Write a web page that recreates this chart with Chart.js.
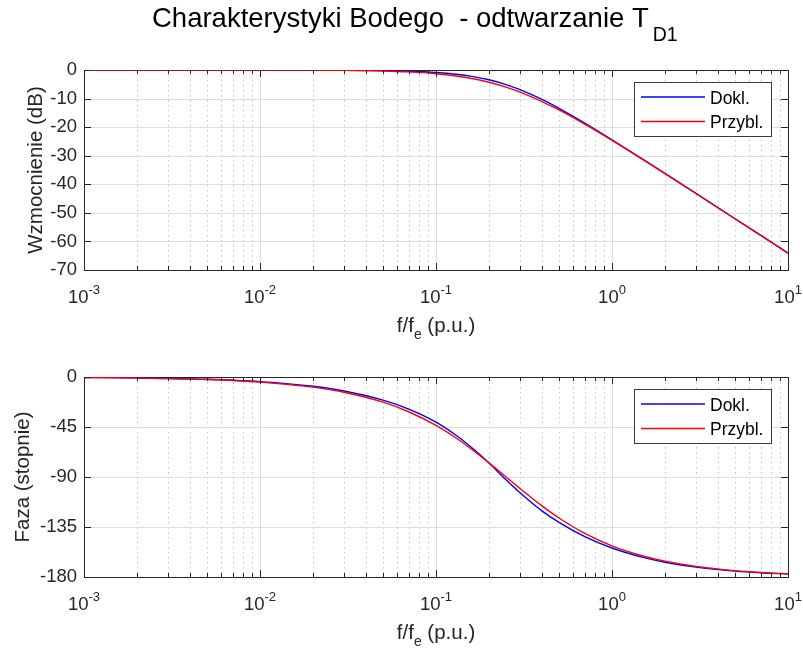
<!DOCTYPE html>
<html><head><meta charset="utf-8">
<script src="https://cdn.jsdelivr.net/npm/chart.js"></script>
<style>
html,body{margin:0;padding:0;background:#fff;}
#wrap{position:relative;width:803px;height:651px;overflow:hidden;background:#fff;}
canvas{position:absolute;left:0;}
</style></head><body>
<div id="wrap">
<canvas id="c1" width="803" height="345" style="top:0px"></canvas>
<canvas id="c2" width="803" height="306" style="top:345px"></canvas>
</div>
<script>
// frequency f/fe (p.u.)
const freq = [0.001, 0.002, 0.005, 0.01, 0.02, 0.03, 0.05, 0.07, 0.1, 0.13, 0.16, 0.2, 0.25, 0.3, 0.4, 0.5, 0.7, 1, 1.5, 2, 3, 5, 7, 10];
// gain (dB)
const magExact  = [0, 0, 0, -0.01, -0.03, -0.08, -0.22, -0.43, -0.88, -1.49, -2.24, -3.43, -5.10, -6.87, -10.30, -13.42, -18.59, -24.42, -31.28, -36.21, -43.20, -52.06, -57.89, -64.09];
const magApprox = [0, 0, 0, -0.01, -0.06, -0.12, -0.34, -0.66, -1.29, -2.08, -2.98, -4.30, -6.02, -7.75, -11.03, -13.98, -18.93, -24.61, -31.36, -36.26, -43.23, -52.06, -57.90, -64.09];
// phase (degrees)
const phaseExact  = [-0.41, -0.82, -2.09, -4.18, -8.35, -12.59, -20.82, -28.88, -40.60, -52.44, -63.74, -77.32, -92.50, -104.19, -120.48, -130.87, -143.70, -153.93, -162.38, -166.75, -171.16, -174.68, -176.21, -177.34];
const phaseApprox = [-0.46, -0.92, -2.29, -4.58, -9.15, -13.69, -22.62, -31.28, -43.60, -54.94, -65.24, -77.32, -90.00, -100.39, -115.98, -126.87, -140.70, -151.93, -161.08, -165.75, -170.46, -174.28, -175.91, -177.14];
const seriesNames = ['Dokl.', 'Przybl.'];
const xDecades = [-3, -2, -1, 0, 1];
const titleMain = 'Charakterystyki Bodego  - odtwarzanie T';
const titleSub = 'D1';
const yLabelTop = 'Wzmocnienie (dB)';
const yLabelBottom = 'Faza (stopnie)';

const FONT = '"Liberation Sans", Arial, Helvetica, sans-serif';
const AX = '#262626';
const BLUE = '#0000ff', RED = '#ff0000';

const decor = {
  id: 'decor',
  beforeDatasetsDraw(chart, args, o) {
    const ctx = chart.ctx; const {left, right, top, bottom} = chart.chartArea;
    const x = chart.scales.x, y = chart.scales.y;
    ctx.save();
    ctx.lineWidth = 1;
    ctx.strokeStyle = '#c2c2c2'; ctx.setLineDash([1.5, 3.5]);
    ctx.beginPath();
    for (const d of xDecades) for (let m = 2; m <= 9; m++) {
      const v = m * Math.pow(10, d); if (v > 10.0001) continue;
      const px = Math.round(x.getPixelForValue(v)) + 0.5;
      ctx.moveTo(px, top); ctx.lineTo(px, bottom);
    }
    ctx.stroke();
    ctx.setLineDash([]);
    ctx.strokeStyle = '#dedede';
    ctx.beginPath();
    for (const d of xDecades) {
      const px = Math.round(x.getPixelForValue(Math.pow(10, d))) + 0.5;
      ctx.moveTo(px, top); ctx.lineTo(px, bottom);
    }
    y.ticks.forEach(t => {
      const py = Math.round(y.getPixelForValue(t.value)) + 0.5;
      ctx.moveTo(left, py); ctx.lineTo(right, py);
    });
    ctx.stroke();
    ctx.strokeStyle = AX;
    ctx.strokeRect(Math.round(left) + 0.5, Math.round(top) + 0.5, Math.round(right - left), Math.round(bottom - top));
    ctx.restore();
  },
  afterDraw(chart, args, o) {
    const ctx = chart.ctx; const {left, right, top, bottom} = chart.chartArea;
    const x = chart.scales.x, y = chart.scales.y;
    ctx.save();
    ctx.strokeStyle = AX; ctx.lineWidth = 1;
    ctx.beginPath();
    for (const d of xDecades) for (let m = 1; m <= 9; m++) {
      const v = m * Math.pow(10, d); if (v > 10.0001) continue;
      const px = Math.round(x.getPixelForValue(v)) + 0.5;
      const L = m === 1 ? 7 : 4;
      ctx.moveTo(px, bottom); ctx.lineTo(px, bottom - L);
      ctx.moveTo(px, top); ctx.lineTo(px, top + L);
    }
    y.ticks.forEach(t => {
      const py = Math.round(y.getPixelForValue(t.value)) + 0.5;
      ctx.moveTo(left, py); ctx.lineTo(left + 7, py);
      ctx.moveTo(right, py); ctx.lineTo(right - 7, py);
    });
    ctx.stroke();
    ctx.fillStyle = AX; ctx.textBaseline = 'alphabetic'; ctx.textAlign = 'left';
    for (const d of xDecades) {
      const px = x.getPixelForValue(Math.pow(10, d));
      const e = String(d);
      ctx.font = '18.5px ' + FONT; const w1 = ctx.measureText('10').width;
      ctx.font = '13px ' + FONT; const w2 = ctx.measureText(e).width;
      const sx = px - (w1 + w2) / 2;
      ctx.font = '18.5px ' + FONT; ctx.fillText('10', sx, bottom + 33);
      ctx.font = '13px ' + FONT; ctx.fillText(e, sx + w1, bottom + 24);
    }
    {
      const cx = (left + right) / 2;
      ctx.font = '20.5px ' + FONT; const a = ctx.measureText('f/f').width; const c = ctx.measureText(' (p.u.)').width;
      ctx.font = '14px ' + FONT; const b = ctx.measureText('e').width;
      const sx = cx - (a + b + c) / 2;
      ctx.font = '20.5px ' + FONT; ctx.fillText('f/f', sx, bottom + 62); ctx.fillText(' (p.u.)', sx + a + b, bottom + 62);
      ctx.font = '14px ' + FONT; ctx.fillText('e', sx + a, bottom + 69);
    }
    ctx.save();
    ctx.translate(o.ylabelX, (top + bottom) / 2); ctx.rotate(-Math.PI / 2);
    ctx.textAlign = 'center'; ctx.font = '20.5px ' + FONT;
    ctx.fillText(o.ylabel, 0, 0);
    ctx.restore();
    const bx = Math.round(right - 154.5) + 0.5, by = Math.round(top + 12) + 0.5;
    ctx.fillStyle = '#fff'; ctx.fillRect(bx, by, 137, 54);
    ctx.strokeStyle = '#3a3a3a'; ctx.lineWidth = 1; ctx.strokeRect(bx, by, 137, 54);
    const cols = [BLUE, RED];
    seriesNames.forEach((nm, i) => {
      const ly = top + 27 + i * 24.5;
      ctx.strokeStyle = cols[i]; ctx.lineWidth = 1.3;
      ctx.beginPath(); ctx.moveTo(right - 147, ly); ctx.lineTo(right - 83, ly); ctx.stroke();
      ctx.fillStyle = '#000'; ctx.font = '17.5px ' + FONT; ctx.textAlign = 'left';
      ctx.fillText(nm, right - 78, ly + 6.5);
    });
    if (o.title) {
      ctx.fillStyle = '#000'; ctx.textAlign = 'left';
      ctx.font = '27.5px ' + FONT; const w1 = ctx.measureText(titleMain).width;
      const sx = 152;
      ctx.fillText(titleMain, sx, 27);
      ctx.font = '19.5px ' + FONT; ctx.fillText(titleSub, sx + w1 + 4, 41);
    }
    ctx.restore();
  }
};

function pts(ys) { return freq.map((f, i) => ({x: f, y: ys[i]})); }

function makeChart(id, exact, approx, ymin, ystep, padTop, xHeight, ylabel, ylabelX, title) {
  return new Chart(document.getElementById(id), {
    type: 'line',
    data: {
      datasets: [
        {label: seriesNames[0], data: pts(exact), borderColor: BLUE, borderWidth: 1.4, pointRadius: 0, cubicInterpolationMode: 'monotone', fill: false, order: 1},
        {label: seriesNames[1], data: pts(approx), borderColor: RED, borderWidth: 1.4, pointRadius: 0, cubicInterpolationMode: 'monotone', fill: false, order: 0}
      ]
    },
    options: {
      responsive: false, animation: false, devicePixelRatio: 1,
      layout: {padding: {top: padTop, right: 15, left: 0, bottom: 0}},
      plugins: {legend: {display: false}, tooltip: {enabled: false}, title: {display: false},
        decor: {ylabel: ylabel, ylabelX: ylabelX, title: title}},
      scales: {
        x: {type: 'logarithmic', min: 0.001, max: 10, ticks: {display: false}, grid: {display: false, drawTicks: false}, border: {display: false},
            afterFit: s => { s.height = xHeight; }},
        y: {type: 'linear', min: ymin, max: 0, ticks: {stepSize: ystep, color: AX, padding: 7, font: {family: FONT, size: 18.5}},
            grid: {display: false, drawTicks: false}, border: {display: false},
            afterFit: s => { s.width = 84; }}
      }
    },
    plugins: [decor]
  });
}

makeChart('c1', magExact, magApprox, -70, 10, 70, 75, yLabelTop, 42, true);
makeChart('c2', phaseExact, phaseApprox, -180, 45, 32, 74, yLabelBottom, 29, false);
</script>
</body></html>
